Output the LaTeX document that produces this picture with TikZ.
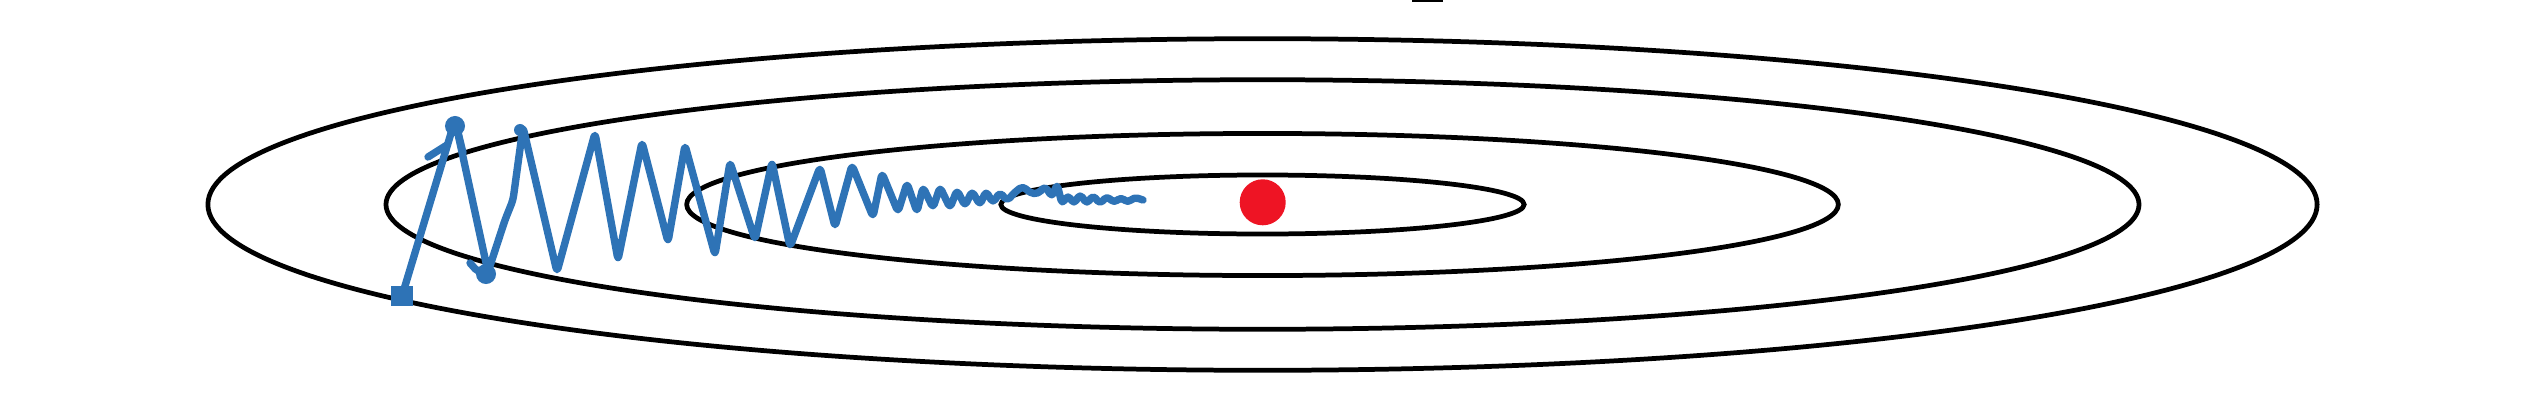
\documentclass[tikz,border=0pt]{standalone}
\definecolor{pathblue}{RGB}{46,115,182}
\definecolor{dotred}{RGB}{238,20,36}
\tikzset{
  contour/.style={draw=black,line width=1.35pt},
  descent/.style={draw=pathblue,line width=2.1pt,line join=round,line cap=round,rounded corners=1.2pt},
  blob/.style={fill=pathblue,draw=none},
}
\begin{document}
\begin{tikzpicture}[x=0.01cm,y=-0.01cm]
\useasboundingbox[fill=white] (0,0) rectangle (2536,412);
\coordinate (c) at (1262.5,204.5);
% contours
\draw[contour] (c) ellipse [x radius=10.54cm, y radius=1.657cm];
\draw[contour] (c) ellipse [x radius=8.76cm, y radius=1.247cm];
\draw[contour] (c) ellipse [x radius=5.755cm, y radius=0.71cm];
\draw[contour] (c) ellipse [x radius=2.615cm, y radius=0.295cm];
% top mark
\fill[black] (1412,0) rectangle (1443,2);
% minimum
\node[circle,fill=dotred,minimum size=0.46cm,inner sep=0pt] (min) at (1262.7,202.3) {};
% descent path
\coordinate (start) at (402,296);
\coordinate (p1) at (455,120);
\coordinate (v1) at (488,272);
\coordinate (p2) at (523,127);
\coordinate (stop) at (1143,200);
\draw[descent] (start) -- (p1) -- (v1) -- (505,220) -- (513,200) -- (p2) -- (557,272) -- (595,133) -- (618,260)
  -- (642,142) -- (668,242) -- (685,145) -- (715,255) -- (730,162) -- (755,240)
  -- (772,162) -- (790,247) -- (820,167) -- (835,227) -- (852,165) -- (873,217)
  -- (882,173) -- (898,212) -- (907,183) -- (917,212) -- (923,187) -- (933,208)
  -- (940,187) -- (950,208) -- (957,190) -- (965,206) -- (972,191) -- (980,205)
  -- (986,191) -- (993,203) -- (1000,192) -- (1007,201) -- (1015,192) -- (1023,186)
  -- (1030,193) -- (1038,194) -- (1045,186) -- (1052,197) -- (1057,184) -- (1062,204)
  -- (1068,195) -- (1074,204) -- (1080,194) -- (1087,204) -- (1093,195) -- (1100,204)
  -- (1107,196) -- (1114,203) -- (1121,197) -- (1128,203) -- (1134,197) -- (stop);
\draw[descent] (428,157) -- (447,145);
\draw[descent] (p1) -- (463,153);
\draw[descent] (470,263) -- (478,272) -- (v1);
% blobs
\fill[blob] (start) ++(-11,-10) rectangle ++(22,20);
\fill[blob] (p1) ++(0,6) circle [radius=0.1cm];
\fill[blob] (v1) ++(-2,2) circle [radius=0.1cm];
\fill[blob] (p2) ++(-3,3) circle [radius=0.06cm];
\end{tikzpicture}
\end{document}
